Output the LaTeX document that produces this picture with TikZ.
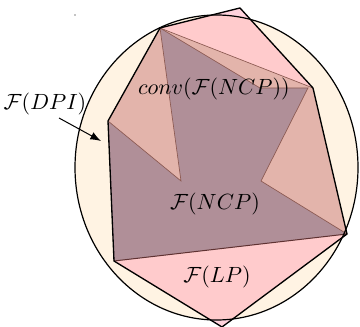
\documentclass[tikz,border=0pt]{standalone}
\usetikzlibrary{arrows.meta}
\definecolor{creamfill}{RGB}{255,243,227}
\definecolor{lpfill}{RGB}{255,145,170}
\definecolor{convfill}{RGB}{227,180,171}
\definecolor{ncpfill}{RGB}{176,143,152}
\definecolor{edgebrown}{RGB}{140,90,82}
\definecolor{edgedark}{RGB}{95,50,50}
\tikzset{every picture/.style={line width=0.75pt}}
\tikzset{setlabel/.style={scale=1.65, inner sep=1pt}, faceedge/.style={color=edgebrown, line width=0.5pt}}

\begin{document}
\begin{tikzpicture}[x=0.75pt,y=0.75pt,yscale=-1,xscale=1]
\useasboundingbox (0,0) rectangle (360,327);

% corners of the polytopes
\coordinate (A) at (160,28);
\coordinate (B) at (240,8);
\coordinate (C) at (313,88);
\coordinate (D) at (347,234);
\coordinate (E) at (222,327);
\coordinate (F) at (114,261);
\coordinate (G) at (108,121);
\coordinate (N1) at (181,181);
\coordinate (Q) at (260,88);
\coordinate (P) at (308,88);
\coordinate (N2) at (261,181);

%Shape: Ellipse [DPI]
\fill [creamfill] (216.5,167.5) ellipse (141.5 and 152.5);
%Shape: Polygon [LP]
\fill [lpfill, fill opacity=0.4] (A) -- (B) -- (C) -- (D) -- (E) -- (F) -- (G) -- cycle;
%Shape: Polygon [conv NCP]
\fill [convfill] (A) -- (C) -- (D) -- (F) -- (G) -- cycle;
%Shape: Polygon [NCP]
\fill [ncpfill] (G) -- (N1) -- (A) -- (Q) -- (P) -- (N2) -- (D) -- (F) -- cycle;

% edges
\draw [faceedge] (A) -- (C);
\draw [faceedge] (G) -- (N1) -- (A) -- (Q) -- (P) -- (N2) -- (D);
\draw [color=edgedark, line width=0.75pt] (F) -- (D);
\draw [line width=1pt, line join=round] (A) -- (B) -- (C) -- (D) -- (E) -- (F) -- (G) -- cycle;
\draw [line width=0.9pt] (216.5,167.5) ellipse (141.5 and 152.5);

% Text Node
\node [setlabel] (convlbl) at (214,89) {$conv(\mathcal{F}(NCP))$};
% Text Node
\node [setlabel] (ncplbl) at (215,204) {$\mathcal{F}(NCP)$};
% Text Node
\node [setlabel] (lplbl) at (217,277) {$\mathcal{F}(LP)$};
% Text Node
\node [setlabel] (dpilbl) at (45,104) {$\mathcal{F}(DPI)$};

\coordinate (dpitip) at (101,141);
\draw [-{Latex[length=8pt,width=6pt]}] (dpilbl.-45) -- (dpitip);

\fill (75,15) circle (0.6);

\end{tikzpicture}
\end{document}
